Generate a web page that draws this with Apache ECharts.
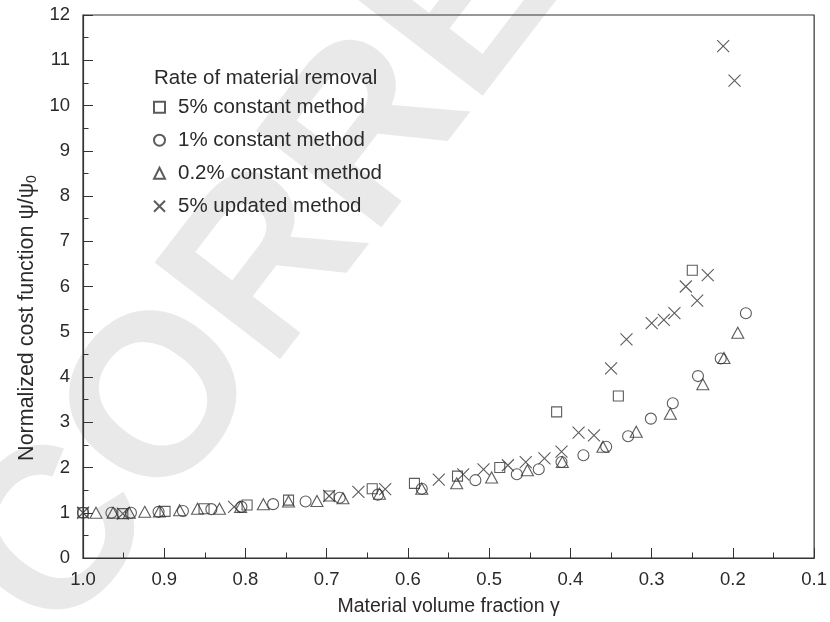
<!DOCTYPE html>
<html>
<head>
<meta charset="utf-8">
<script src="https://cdn.jsdelivr.net/npm/echarts@6/dist/echarts.min.js"></script>
<style>html,body{margin:0;padding:0;background:#fff}#c{width:830px;height:622px}</style>
</head>
<body>
<div id="c"></div>
<script>
// ---- data ----
var sqX = [1.0, 0.951, 0.899, 0.851, 0.798, 0.747, 0.697, 0.644, 0.592, 0.539, 0.487, 0.417, 0.341, 0.250];
var sqY = [1.0, 0.98, 1.03, 1.09, 1.17, 1.28, 1.37, 1.53, 1.65, 1.81, 2.00, 3.23, 3.58, 6.36];

var ciX = [1.0, 0.965, 0.941, 0.907, 0.877, 0.842, 0.805, 0.766, 0.726, 0.684, 0.637, 0.583, 0.517, 0.466, 0.439, 0.411, 0.384, 0.356, 0.329, 0.301, 0.274, 0.243, 0.215, 0.184];
var ciY = [1.0, 1.0, 1.0, 1.02, 1.04, 1.08, 1.13, 1.19, 1.25, 1.33, 1.40, 1.53, 1.72, 1.85, 1.96, 2.12, 2.27, 2.46, 2.69, 3.08, 3.42, 4.02, 4.41, 5.41];

var trX = [0.984, 0.963, 0.943, 0.924, 0.906, 0.881, 0.859, 0.832, 0.806, 0.778, 0.747, 0.712, 0.680, 0.635, 0.583, 0.540, 0.497, 0.453, 0.410, 0.360, 0.319, 0.277, 0.237, 0.211, 0.194];
var trY = [1.0, 1.0, 1.0, 1.02, 1.03, 1.055, 1.09, 1.09, 1.13, 1.19, 1.25, 1.26, 1.32, 1.42, 1.53, 1.65, 1.78, 1.94, 2.12, 2.46, 2.79, 3.19, 3.84, 4.42, 4.98];

var crX = [1.0, 0.951, 0.814, 0.697, 0.661, 0.628, 0.562, 0.532, 0.507, 0.477, 0.455, 0.432, 0.411, 0.390, 0.371, 0.350, 0.331, 0.300, 0.285, 0.272, 0.258, 0.244, 0.231, 0.212, 0.198];
var crY = [1.0, 0.98, 1.13, 1.37, 1.46, 1.52, 1.73, 1.85, 1.96, 2.05, 2.12, 2.20, 2.35, 2.77, 2.71, 4.19, 4.83, 5.19, 5.26, 5.41, 6.0, 5.69, 6.25, 11.31, 10.55];

var seriesNames = ['5% constant method', '1% constant method', '0.2% constant method', '5% updated method'];
var legendTitle = 'Rate of material removal';
var xTitle = 'Material volume fraction \u03b3';
var yTitle = 'Normalized cost function \u03c8/\u03c8{sub|0}';

function pairs(xs, ys) { return xs.map(function (x, i) { return [x, ys[i]]; }); }

var FONT = '"Liberation Sans", Arial, sans-serif';
var INK = '#2a2a2a';
var mstyle = { color: 'rgba(0,0,0,0)', borderColor: '#333', borderWidth: 1.1 };

var chart = echarts.init(document.getElementById('c'), null, { renderer: 'canvas' });
chart.setOption({
  animation: false,
  backgroundColor: '#fff',
  textStyle: { fontFamily: FONT },
  graphic: [
    { type: 'text', x: 10, y: 606, rotation: 0.915, z: -100, silent: true,
      style: { text: 'CORRECTED PROOF', fontFamily: FONT, fontWeight: 'bold', fontSize: 230,
               fill: '#e9e9e9', textAlign: 'left', textVerticalAlign: 'middle' } },
    { type: 'text', x: 154, y: 78, silent: true,
      style: { text: legendTitle, fontFamily: FONT, fontSize: 20.5, fill: INK, textVerticalAlign: 'middle' } },
    { type: 'text', x: 27, y: 318, rotation: Math.PI / 2, silent: true,
      style: { text: yTitle, fontFamily: FONT, fontSize: 21.5, fill: INK, textAlign: 'center', textVerticalAlign: 'middle',
               rich: { sub: { fontSize: 14, fontFamily: FONT, fill: INK, padding: [10, 0, 0, 0] } } } }
  ],
  grid: { left: 83, top: 15, right: 13, bottom: 64, show: true, borderColor: '#333', borderWidth: 1.2, backgroundColor: 'transparent' },
  legend: {
    orient: 'vertical', left: 153, top: 96.7, padding: 0,
    itemWidth: 11, itemHeight: 11, itemGap: 12,
    textStyle: { fontSize: 20.5, color: INK, fontFamily: FONT, lineHeight: 20, padding: [0, 0, 0, 8] },
    data: seriesNames
  },
  xAxis: {
    type: 'value', inverse: true, min: 0.1, max: 1.0, interval: 0.1,
    axisLine: { lineStyle: { color: '#333', width: 1.2 } },
    axisTick: { inside: true, length: 10, lineStyle: { color: '#333' } },
    minorTick: { show: true, splitNumber: 2, length: 5.5, lineStyle: { color: '#333' } },
    splitLine: { show: false },
    axisLabel: { color: INK, fontSize: 18.5, margin: 12, formatter: function (v) { return v.toFixed(1); } },
    name: xTitle, nameLocation: 'middle', nameGap: 39,
    nameTextStyle: { color: INK, fontSize: 19.5 }
  },
  yAxis: {
    type: 'value', min: 0, max: 12, interval: 1,
    axisLine: { lineStyle: { color: '#333', width: 1.2 } },
    axisTick: { inside: true, length: 10, lineStyle: { color: '#333' } },
    minorTick: { show: true, splitNumber: 2, length: 5.5, lineStyle: { color: '#333' } },
    splitLine: { show: false },
    axisLabel: { color: INK, fontSize: 18.5, margin: 13 }
  },
  series: [
    { name: seriesNames[0], type: 'scatter', clip: false, symbol: 'rect', symbolSize: 10, itemStyle: mstyle, data: pairs(sqX, sqY) },
    { name: seriesNames[1], type: 'scatter', clip: false, symbol: 'circle', symbolSize: 11, itemStyle: mstyle, data: pairs(ciX, ciY) },
    { name: seriesNames[2], type: 'scatter', clip: false, symbol: 'triangle', symbolSize: [12, 11], itemStyle: mstyle, data: pairs(trX, trY) },
    { name: seriesNames[3], type: 'scatter', clip: false, symbol: 'path://M0,0L10,10M10,0L0,10', symbolSize: 12, itemStyle: mstyle, data: pairs(crX, crY) }
  ]
});
</script>
</body>
</html>
